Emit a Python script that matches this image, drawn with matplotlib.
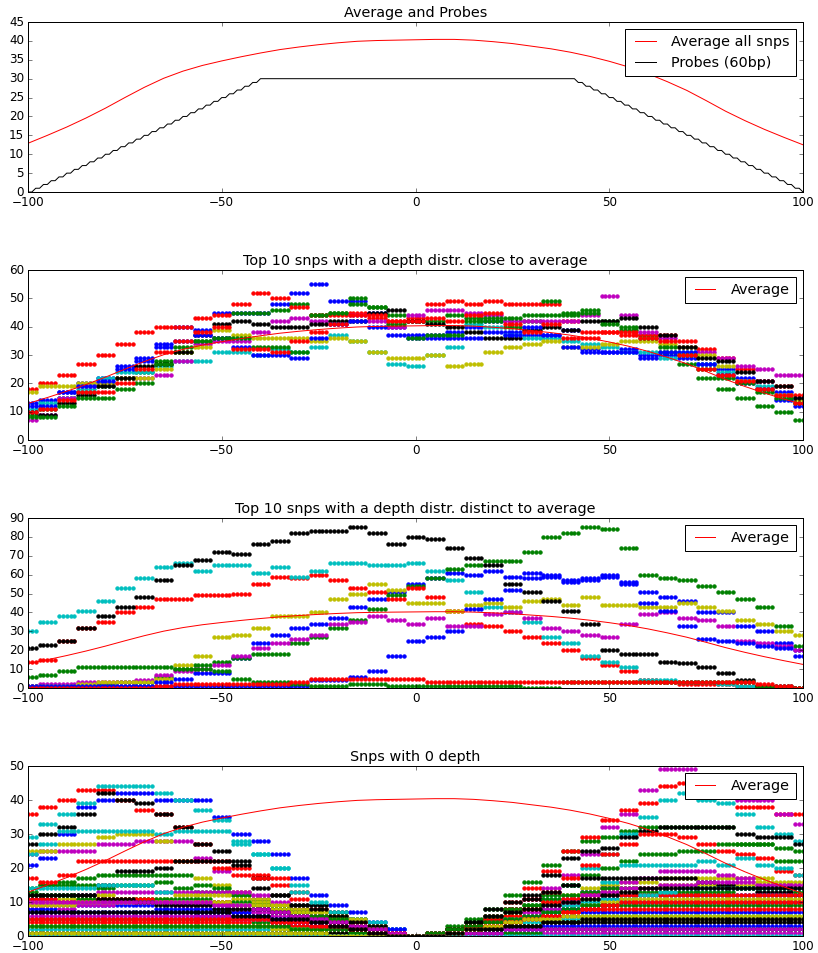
import numpy as np
import matplotlib
matplotlib.use('Agg')
import matplotlib.pyplot as plt

plt.style.use('classic')

# positions around the snp
pos = np.arange(-100, 101)
# depth readings are taken every 5 bp, each one holds for the 5 positions around it
grid = np.arange(-100, 101, 5)

# average depth of all snps (every 5 bp)
avg_x = np.arange(-100, 101, 5)
avg_depth = [12.9, 15.0, 17.2, 19.6, 22.2, 25.0, 27.7, 30.1, 32.0, 33.5, 34.7,
             35.8, 36.8, 37.7, 38.4, 39.0, 39.5, 39.9, 40.1, 40.2, 40.3,
             40.4, 40.4, 40.2, 39.8, 39.3, 38.6, 37.9, 37.0, 35.9, 34.6,
             33.1, 31.3, 29.2, 26.9, 24.2, 21.4, 18.9, 16.6, 14.5, 12.5]

# probe coverage (60bp probes), every 2 bp
probe_x = np.arange(-100, 101, 2)
probe_depth = [0, 1, 2, 3, 4, 5, 6, 7, 8, 9, 10, 11, 12, 13, 14, 15, 16, 17, 18, 19,
               20, 21, 22, 23, 24, 25, 26, 27, 28, 29,
               30, 30, 30, 30, 30, 30, 30, 30, 30, 30, 30, 30, 30, 30, 30, 30, 30, 30, 30, 30,
               30, 30, 30, 30, 30, 30, 30, 30, 30, 30, 30, 30, 30, 30, 30, 30, 30, 30, 30, 30,
               30, 29, 28, 27, 26, 25, 24, 23, 22, 21, 20, 19, 18, 17, 16, 15, 14, 13, 12, 11,
               10, 9, 8, 7, 6, 5, 4, 3, 2, 1, 0]

# top 10 snps close to average
close_snps = [
    [13, 14, 17, 20, 22, 26, 28, 34, 40, 39, 45, 45, 45, 48, 52, 55, 49, 49, 45, 40, 37,
     37, 38, 40, 42, 38, 37, 37, 39, 32, 31, 32, 30, 30, 29, 27, 25, 22, 21, 17, 15],
    [9, 11, 15, 17, 19, 22, 24, 28, 31, 35, 36, 45, 45, 46, 48, 44, 45, 50, 47, 44, 42,
     42, 44, 43, 42, 40, 42, 44, 44, 46, 42, 39, 37, 31, 27, 22, 18, 15, 12, 10, 7],
    [18, 20, 23, 27, 30, 34, 38, 40, 40, 43, 44, 48, 52, 50, 47, 44, 44, 45, 43, 42, 43,
     48, 49, 48, 49, 48, 48, 48, 42, 38, 38, 38, 37, 37, 35, 32, 29, 25, 21, 19, 16],
    [11, 13, 15, 18, 22, 24, 24, 26, 28, 28, 31, 31, 30, 32, 31, 33, 37, 35, 31, 27, 26,
     30, 33, 41, 40, 37, 36, 36, 35, 34, 33, 31, 31, 29, 31, 27, 24, 21, 19, 16, 13],
    [7, 9, 15, 19, 20, 22, 22, 23, 28, 34, 35, 35, 38, 42, 43, 42, 41, 44, 42, 40, 44,
     46, 46, 45, 44, 42, 42, 42, 42, 44, 51, 44, 38, 36, 33, 31, 29, 26, 25, 23, 23],
    [17, 19, 19, 20, 20, 22, 22, 25, 31, 33, 39, 37, 36, 36, 36, 35, 36, 35, 31, 29, 29,
     30, 26, 27, 31, 33, 34, 35, 33, 33, 34, 35, 35, 34, 33, 30, 26, 21, 18, 16, 14],
    [10, 9, 13, 16, 19, 22, 26, 27, 31, 37, 41, 42, 41, 40, 40, 41, 42, 42, 45, 46, 42,
     41, 40, 38, 36, 36, 39, 40, 39, 42, 42, 43, 40, 37, 33, 29, 28, 24, 21, 19, 15],
    [12, 12, 17, 19, 21, 25, 29, 33, 35, 37, 36, 33, 30, 30, 29, 36, 41, 42, 40, 37, 36,
     36, 36, 36, 38, 37, 40, 37, 33, 31, 31, 31, 29, 31, 31, 27, 23, 20, 18, 14, 12],
    [8, 8, 12, 15, 15, 18, 20, 27, 33, 35, 36, 36, 33, 33, 31, 44, 45, 48, 47, 41, 36,
     37, 37, 42, 43, 43, 44, 49, 45, 45, 41, 40, 36, 33, 30, 25, 22, 20, 17, 15, 13],
    [10, 11, 14, 17, 17, 20, 25, 31, 35, 38, 40, 32, 32, 31, 35, 38, 41, 44, 44, 42, 42,
     43, 42, 44, 45, 41, 38, 41, 36, 36, 38, 37, 36, 35, 30, 25, 23, 21, 18, 16, 13],
]

# top 10 snps distinct to average
distinct_snps = [
    [1, 1, 1, 1, 1, 1, 1, 1, 5, 8, 8, 16, 24, 28, 32, 34, 37, 43, 47, 51, 55,
     58, 61, 60, 62, 59, 61, 60, 57, 58, 60, 56, 51, 48, 46, 40, 40, 33, 30, 24, 20],
    [0, 0, 1, 1, 2, 3, 3, 6, 10, 12, 14, 16, 18, 18, 24, 27, 32, 36, 42, 49, 54,
     58, 63, 65, 67, 67, 72, 80, 82, 85, 84, 74, 60, 58, 57, 54, 51, 47, 43, 33, 22],
    [14, 15, 25, 32, 35, 40, 43, 47, 47, 49, 49, 50, 55, 59, 58, 60, 57, 53, 51, 47, 53,
     48, 41, 34, 33, 30, 27, 24, 20, 16, 12, 9, 4, 3, 2, 2, 2, 1, 1, 0, 0],
    [30, 35, 38, 41, 46, 53, 58, 64, 66, 62, 65, 65, 61, 64, 59, 62, 66, 66, 65, 65, 66,
     62, 57, 51, 43, 40, 35, 27, 24, 17, 14, 11, 4, 4, 3, 3, 2, 1, 0, 0, 0],
    [1, 2, 2, 3, 3, 3, 4, 7, 9, 10, 12, 17, 21, 24, 26, 28, 34, 35, 38, 36, 34,
     37, 33, 33, 39, 40, 37, 32, 30, 28, 27, 34, 39, 40, 37, 36, 33, 25, 24, 22, 20],
    [1, 1, 1, 2, 3, 3, 3, 5, 12, 17, 27, 28, 32, 38, 38, 40, 47, 50, 55, 52, 45,
     45, 41, 44, 45, 43, 46, 47, 44, 48, 44, 44, 43, 43, 45, 43, 41, 36, 34, 30, 28],
    [21, 23, 25, 32, 38, 43, 48, 57, 65, 68, 72, 71, 76, 78, 82, 83, 83, 85, 82, 76, 80,
     79, 74, 69, 65, 55, 51, 46, 41, 34, 20, 18, 18, 14, 13, 11, 8, 4, 1, 1, 0],
    [1, 1, 1, 1, 1, 1, 1, 3, 1, 1, 1, 1, 1, 1, 1, 4, 4, 6, 9, 17, 25,
     27, 30, 42, 47, 52, 58, 59, 56, 57, 59, 55, 45, 41, 33, 26, 25, 24, 22, 21, 17],
    [6, 7, 9, 11, 11, 11, 11, 11, 10, 10, 9, 5, 3, 3, 2, 1, 1, 2, 2, 1, 1,
     1, 1, 1, 1, 1, 0, 0, 3, 3, 3, 3, 3, 3, 3, 3, 3, 3, 1, 0, 0],
    [0, 0, 0, 0, 0, 0, 0, 1, 2, 2, 2, 2, 2, 2, 3, 5, 5, 5, 5, 5, 5,
     3, 3, 3, 3, 3, 3, 3, 3, 3, 3, 3, 3, 3, 3, 3, 3, 3, 2, 1, 0],
]

# snps with 0 depth at the position itself
zero_snps = [
    [21, 23, 30, 38, 40, 42, 42, 40, 40, 40, 35, 30, 28, 24, 17, 12, 9, 7, 4, 2, 0,
     0, 1, 1, 2, 2, 2, 2, 2, 2, 2, 2, 2, 2, 2, 2, 2, 2, 2, 2, 2],
    [13, 15, 16, 17, 18, 18, 18, 18, 18, 13, 13, 12, 11, 9, 8, 6, 5, 4, 3, 1, 0,
     1, 3, 5, 8, 12, 16, 21, 25, 28, 29, 31, 32, 32, 32, 32, 32, 27, 27, 22, 22],
    [36, 38, 40, 43, 43, 40, 37, 36, 32, 27, 22, 20, 18, 17, 13, 6, 3, 1, 0, 0, 0,
     0, 1, 3, 6, 10, 14, 19, 25, 29, 34, 37, 39, 44, 45, 44, 42, 38, 38, 36, 36],
    [29, 33, 36, 39, 44, 44, 44, 42, 40, 37, 34, 27, 24, 20, 13, 9, 6, 5, 4, 2, 0,
     0, 1, 2, 3, 5, 8, 11, 15, 20, 24, 30, 35, 40, 42, 40, 39, 36, 32, 30, 28],
    [24, 25, 25, 25, 27, 27, 28, 28, 28, 23, 19, 13, 11, 9, 7, 6, 4, 2, 1, 0, 0,
     0, 1, 3, 5, 8, 11, 14, 18, 24, 32, 36, 43, 49, 49, 46, 43, 40, 40, 36, 33],
    [25, 25, 27, 27, 29, 30, 30, 28, 22, 17, 15, 13, 11, 9, 8, 6, 5, 4, 3, 1, 0,
     0, 1, 2, 4, 6, 8, 10, 12, 14, 15, 16, 16, 17, 17, 17, 17, 17, 17, 16, 16],
    [27, 30, 32, 36, 42, 40, 39, 36, 32, 27, 25, 22, 17, 12, 9, 9, 7, 5, 3, 1, 0,
     0, 1, 3, 5, 8, 12, 18, 23, 25, 26, 29, 31, 32, 32, 32, 32, 30, 29, 29, 27],
    [11, 11, 10, 10, 10, 10, 10, 10, 9, 8, 8, 7, 6, 5, 5, 4, 4, 3, 3, 2, 0,
     0, 1, 2, 3, 4, 5, 7, 8, 8, 9, 10, 10, 10, 10, 10, 10, 10, 10, 10, 10],
    [14, 15, 15, 15, 14, 15, 15, 16, 14, 15, 14, 12, 10, 8, 7, 6, 4, 3, 2, 1, 0,
     1, 2, 3, 5, 7, 9, 12, 15, 18, 20, 22, 24, 24, 25, 25, 27, 27, 27, 26, 25],
    [17, 16, 18, 22, 22, 22, 22, 22, 22, 22, 20, 18, 17, 15, 11, 8, 6, 4, 2, 1, 0,
     0, 1, 3, 5, 8, 11, 13, 17, 21, 24, 27, 30, 30, 29, 27, 25, 24, 23, 19, 18],
    [24, 27, 31, 31, 31, 31, 31, 30, 31, 31, 31, 28, 24, 20, 15, 10, 7, 5, 3, 1, 0,
     0, 1, 2, 3, 4, 6, 8, 10, 13, 16, 21, 21, 21, 21, 22, 21, 23, 21, 20, 18],
    [8, 9, 10, 12, 13, 13, 13, 13, 13, 13, 13, 13, 12, 10, 8, 6, 4, 3, 2, 1, 0,
     0, 1, 2, 3, 5, 7, 9, 11, 13, 14, 16, 17, 19, 19, 19, 18, 17, 15, 15, 14],
    [10, 10, 11, 11, 12, 11, 11, 11, 12, 12, 12, 11, 10, 9, 8, 7, 6, 5, 3, 1, 0,
     0, 1, 2, 3, 4, 5, 7, 9, 11, 13, 14, 14, 15, 15, 15, 15, 15, 16, 15, 15],
    [12, 12, 12, 12, 15, 19, 19, 20, 22, 22, 22, 21, 14, 12, 9, 8, 6, 4, 3, 1, 0,
     0, 1, 4, 8, 10, 11, 13, 15, 17, 17, 17, 17, 17, 17, 16, 15, 14, 13, 13, 12],
    [8, 8, 9, 9, 9, 9, 9, 8, 8, 7, 7, 7, 6, 5, 4, 4, 3, 2, 1, 0, 0,
     1, 1, 2, 3, 4, 5, 6, 8, 9, 11, 12, 12, 12, 12, 12, 12, 12, 12, 12, 12],
    [12, 12, 12, 11, 11, 11, 11, 11, 11, 11, 10, 10, 9, 8, 7, 6, 5, 3, 2, 1, 0,
     1, 2, 4, 6, 8, 9, 11, 12, 13, 14, 14, 13, 13, 13, 13, 13, 14, 14, 14, 13],
    [11, 11, 10, 10, 11, 11, 11, 10, 10, 10, 10, 9, 8, 7, 6, 5, 4, 3, 2, 1, 0,
     1, 2, 3, 4, 6, 8, 10, 11, 12, 12, 12, 12, 12, 12, 12, 12, 12, 12, 12, 12],
    [14, 14, 14, 14, 15, 15, 15, 13, 10, 9, 9, 9, 8, 7, 6, 5, 4, 2, 1, 0, 0,
     0, 1, 2, 3, 5, 6, 7, 9, 10, 11, 11, 12, 13, 14, 14, 14, 14, 14, 14, 14],
    [9, 9, 8, 9, 9, 10, 10, 10, 9, 9, 9, 8, 7, 6, 5, 4, 3, 2, 1, 1, 0,
     0, 1, 2, 3, 4, 6, 8, 10, 12, 13, 14, 14, 15, 15, 16, 16, 16, 15, 15, 15],
    [9, 9, 9, 10, 10, 10, 10, 10, 10, 10, 10, 9, 9, 8, 7, 5, 4, 3, 2, 1, 0,
     0, 1, 2, 3, 4, 5, 6, 7, 9, 10, 11, 11, 11, 11, 11, 11, 11, 11, 11, 11],
    [12, 12, 12, 12, 11, 11, 10, 9, 9, 9, 8, 8, 8, 7, 6, 5, 4, 3, 2, 1, 0,
     0, 2, 4, 6, 7, 8, 9, 10, 11, 12, 13, 14, 14, 14, 14, 14, 14, 14, 14, 14],
    [7, 7, 7, 7, 7, 7, 7, 7, 7, 6, 6, 6, 5, 5, 4, 3, 3, 2, 1, 0, 0,
     0, 1, 2, 3, 4, 5, 6, 6, 7, 7, 7, 7, 7, 7, 7, 7, 7, 7, 7, 7],
    [5, 5, 5, 5, 5, 5, 5, 5, 5, 5, 5, 5, 4, 4, 3, 3, 2, 2, 1, 0, 0,
     1, 2, 3, 4, 5, 6, 7, 8, 9, 9, 9, 9, 9, 9, 9, 9, 9, 9, 9, 9],
    [4, 4, 4, 4, 4, 4, 4, 4, 4, 4, 4, 4, 3, 3, 3, 2, 2, 1, 1, 0, 0,
     0, 1, 2, 3, 4, 5, 6, 7, 8, 8, 8, 8, 8, 8, 8, 8, 8, 8, 8, 8],
    [2, 2, 2, 2, 2, 2, 2, 2, 2, 2, 2, 2, 2, 2, 2, 1, 1, 1, 1, 0, 0,
     0, 1, 1, 2, 3, 4, 5, 5, 6, 6, 6, 6, 6, 6, 6, 6, 6, 6, 6, 6],
    [6, 6, 6, 6, 6, 6, 6, 6, 6, 6, 6, 5, 5, 4, 4, 3, 2, 2, 1, 0, 0,
     0, 0, 1, 1, 1, 1, 1, 1, 1, 1, 1, 1, 1, 1, 1, 1, 1, 1, 1, 1],
    [3, 3, 3, 3, 3, 3, 3, 3, 3, 3, 3, 3, 3, 2, 2, 2, 1, 1, 1, 0, 0,
     0, 1, 1, 2, 2, 3, 4, 4, 5, 5, 5, 5, 5, 5, 5, 5, 5, 5, 5, 5],
    [1, 1, 1, 1, 1, 1, 1, 1, 1, 1, 1, 1, 1, 1, 1, 1, 1, 1, 1, 0, 0,
     0, 1, 1, 2, 3, 3, 4, 4, 4, 4, 4, 4, 4, 4, 4, 4, 4, 4, 4, 4],
    [0, 0, 0, 0, 0, 0, 0, 0, 0, 0, 0, 0, 0, 0, 0, 0, 0, 0, 0, 0, 0,
     0, 0, 1, 1, 2, 2, 3, 3, 3, 3, 3, 3, 3, 3, 3, 3, 3, 3, 3, 3],
    [3, 3, 3, 3, 3, 3, 3, 3, 3, 3, 3, 3, 3, 3, 2, 2, 2, 1, 1, 0, 0,
     0, 0, 1, 1, 1, 1, 2, 2, 2, 2, 2, 2, 2, 2, 2, 2, 2, 2, 2, 2],
    [5, 5, 5, 5, 5, 5, 5, 5, 5, 5, 5, 5, 5, 4, 4, 3, 3, 2, 1, 1, 0,
     0, 1, 2, 3, 4, 5, 6, 7, 8, 9, 10, 10, 10, 10, 10, 10, 10, 10, 10, 10],
    [0, 0, 0, 0, 0, 0, 0, 0, 0, 0, 0, 0, 0, 0, 0, 0, 0, 0, 0, 0, 0,
     0, 0, 0, 0, 0, 0, 0, 0, 0, 0, 0, 0, 0, 0, 0, 0, 0, 0, 0, 0],
    [10, 10, 10, 10, 10, 10, 10, 10, 10, 10, 9, 9, 8, 7, 6, 5, 4, 3, 2, 1, 0,
     0, 1, 1, 1, 2, 2, 2, 2, 2, 2, 2, 2, 2, 2, 2, 2, 2, 2, 2, 2],
    [1, 1, 1, 1, 1, 1, 1, 1, 1, 1, 1, 1, 1, 1, 1, 1, 0, 0, 0, 0, 0,
     0, 1, 2, 3, 4, 5, 5, 6, 6, 6, 6, 6, 6, 6, 6, 6, 6, 6, 6, 6],
    [7, 7, 7, 7, 7, 7, 7, 7, 7, 7, 7, 6, 6, 5, 5, 4, 3, 2, 1, 0, 0,
     0, 1, 2, 2, 3, 3, 4, 4, 5, 5, 5, 5, 5, 5, 5, 5, 5, 5, 5, 5],
]


def expand(vals):
    # hold each 5bp reading over its neighbouring positions
    return np.repeat(vals, 5)[2:-2]


fig, axes = plt.subplots(4, 1, figsize=(818 / 72, 953 / 72), dpi=72)
fig.patch.set_facecolor('white')
plt.subplots_adjust(left=0.0342, right=0.9817, top=0.9769, bottom=0.0178, hspace=0.4588)

# Average and probes
ax = axes[0]
ax.plot(avg_x, avg_depth, 'r-', label='Average all snps')
ax.plot(pos, np.repeat(probe_depth, 2)[:len(pos)], 'k-', label='Probes (60bp)')
ax.set_title('Average and Probes')
ax.set_xlim(-100, 100)
ax.set_ylim(0, 45)
ax.set_yticks(np.arange(0, 46, 5))
ax.legend(loc='upper right')

panels = [
    (axes[1], close_snps, 'Top 10 snps with a depth distr. close to average', 60),
    (axes[2], distinct_snps, 'Top 10 snps with a depth distr. distinct to average', 90),
    (axes[3], zero_snps, 'Snps with 0 depth', 50),
]
for ax, rows, title, ymax in panels:
    for vals in rows:
        ax.plot(pos, expand(vals), '.', markersize=7.5)
    ax.plot(avg_x, avg_depth, 'r-', label='Average')
    ax.set_title(title)
    ax.set_xlim(-100, 100)
    ax.set_ylim(0, ymax)
    ax.legend(loc='upper right')

for ax in axes:
    ax.set_xticks([-100, -50, 0, 50, 100])

fig.savefig('out.png', dpi=72, facecolor='white')
